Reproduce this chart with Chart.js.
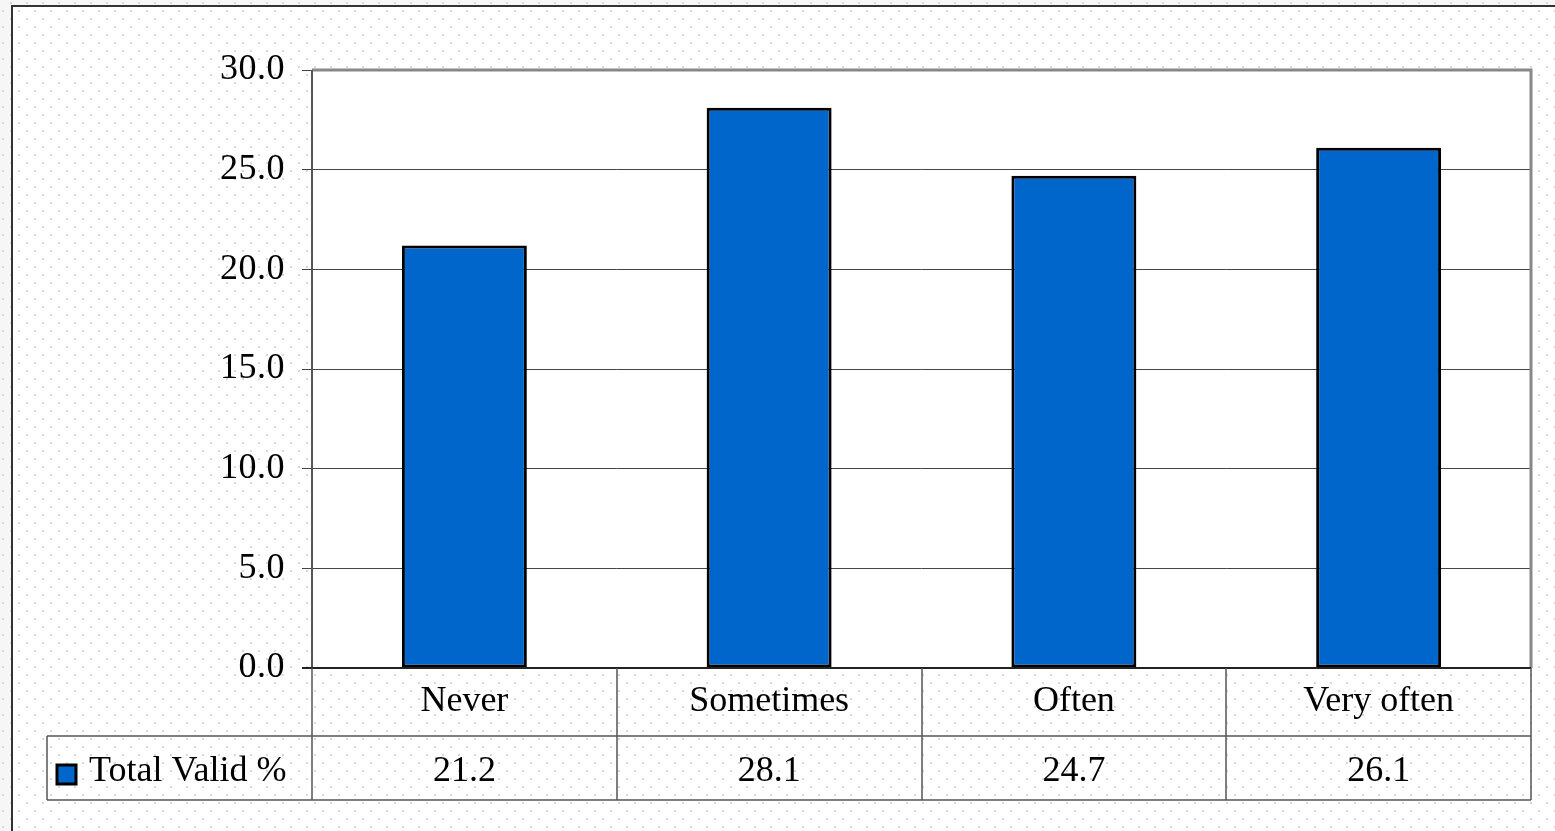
<!DOCTYPE html>
<html>
<head>
<meta charset="utf-8">
<script src="https://cdn.jsdelivr.net/npm/chart.js@4"></script>
<style>
  html,body{margin:0;padding:0;background:#fff;}
  #wrap{width:1555px;height:831px;position:relative;}
</style>
</head>
<body>
<div id="wrap"><canvas id="c" width="1555" height="831"></canvas></div>
<script>
// data
const categories=['Never','Sometimes','Often','Very often'];
const totalValid=[21.2,28.1,24.7,26.1];
const seriesName='Total Valid %';
const yTicks=[0,5,10,15,20,25,30];

const FONT='"Liberation Serif","Times New Roman",serif';
const BLUE='#0066CC';

// dotted paper background + outer frame
const bgPlugin={id:'bg',beforeDraw(chart){
  const ctx=chart.ctx,W=chart.width,H=chart.height;
  ctx.save();
  ctx.fillStyle='#f6f6f6';ctx.fillRect(0,0,W,H);
  ctx.fillStyle='#fff';ctx.fillRect(11,5,W-11,H-5);
  let row=0;
  for(let y=2;y<H;y+=8,row++){
    for(let x=(row%2?0:8)+2;x<W;x+=16){
      ctx.fillStyle=(x<11||y<5)?'#d8d8d8':'#d4d4fb';
      ctx.fillRect(x,y,2,2);
    }
  }
  ctx.strokeStyle='#333';ctx.lineWidth=2;
  ctx.beginPath();ctx.moveTo(12,H);ctx.lineTo(12,6);ctx.lineTo(W,6);ctx.stroke();
  const a=chart.chartArea;
  ctx.fillStyle='#fff';ctx.fillRect(a.left,a.top,a.right-a.left,a.bottom-a.top);
  ctx.restore();
  ctx.letterSpacing='0.5px';
}};

// plot frame + data table under the axis
const tablePlugin={id:'table',afterDraw(chart){
  const ctx=chart.ctx,a=chart.chartArea,x=chart.scales.x;
  const r1=a.bottom+68,r2=a.bottom+132,legL=47;
  ctx.save();
  // plot border
  ctx.strokeStyle='#888';ctx.lineWidth=3;
  ctx.beginPath();ctx.moveTo(a.left,a.top);ctx.lineTo(a.right,a.top);ctx.lineTo(a.right,a.bottom);ctx.stroke();
  ctx.strokeStyle='#555';ctx.lineWidth=2;
  ctx.beginPath();ctx.moveTo(a.left,a.top);ctx.lineTo(a.left,a.bottom);ctx.stroke();
  ctx.strokeStyle='#222';ctx.lineWidth=2;
  ctx.beginPath();ctx.moveTo(a.left-10,a.bottom);ctx.lineTo(a.right,a.bottom);ctx.stroke();
  // table grid
  ctx.strokeStyle='#555';ctx.lineWidth=1.5;
  ctx.beginPath();
  ctx.moveTo(legL,r1);ctx.lineTo(a.right,r1);
  ctx.moveTo(legL,r2);ctx.lineTo(a.right,r2);
  ctx.moveTo(legL,r1);ctx.lineTo(legL,r2);
  const w=(a.right-a.left)/categories.length;
  for(let i=0;i<=categories.length;i++){
    const xx=Math.round(a.left+i*w);
    ctx.moveTo(xx,a.bottom);ctx.lineTo(xx,r2);
  }
  ctx.stroke();
  // text
  ctx.fillStyle='#000';ctx.font='36px '+FONT;
  ctx.letterSpacing='0px';
  ctx.textAlign='center';ctx.textBaseline='alphabetic';
  categories.forEach((c,i)=>{
    const cx=x.getPixelForValue(i);
    ctx.fillText(c,cx,a.bottom+43);
    ctx.fillText(totalValid[i].toFixed(1),cx,r1+45);
  });
  // legend key
  ctx.fillStyle=BLUE;ctx.fillRect(57,765,19,19);
  ctx.strokeStyle='#000';ctx.lineWidth=3;ctx.strokeRect(57,765,19,19);
  ctx.fillStyle='#000';ctx.textAlign='left';
  ctx.fillText(seriesName,89,r1+45);
  ctx.restore();
}};

new Chart(document.getElementById('c'),{
  type:'bar',
  data:{labels:categories,datasets:[{
    label:seriesName,data:totalValid,
    backgroundColor:BLUE,borderColor:'#000',borderWidth:3,borderSkipped:false,
    categoryPercentage:1,barPercentage:0.41
  }]},
  options:{
    responsive:false,animation:false,
    layout:{padding:{left:0,right:24,top:70,bottom:0}},
    plugins:{legend:{display:false},tooltip:{enabled:false}},
    scales:{
      x:{
        grid:{display:false},border:{display:false},
        ticks:{display:false},
        afterFit(s){s.height=163;}
      },
      y:{
        min:0,max:30,
        afterFit(s){s.width=312;},
        afterBuildTicks(s){s.ticks=yTicks.map(v=>({value:v}));},
        grid:{color:'#444',lineWidth:1,tickLength:10,drawTicks:true},
        border:{display:false},
        ticks:{color:'#000',padding:17,font:{family:FONT,size:36},callback:v=>v.toFixed(1)}
      }
    }
  },
  plugins:[bgPlugin,tablePlugin]
});
</script>
</body>
</html>
